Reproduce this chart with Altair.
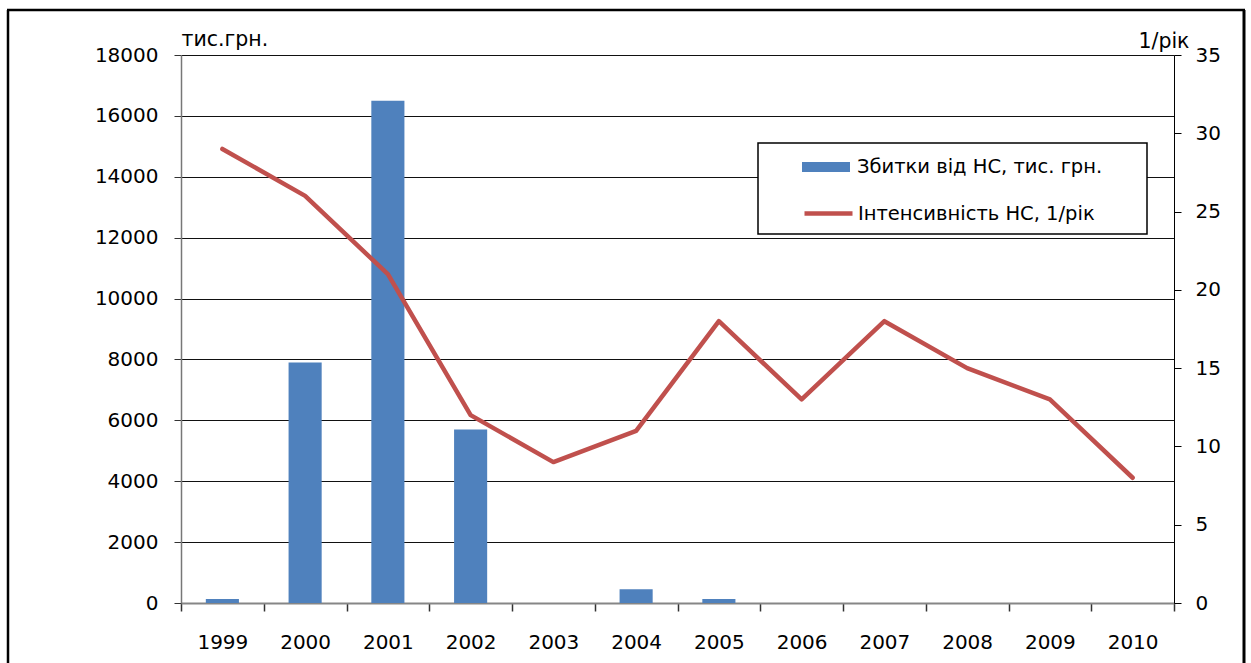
import altair as alt
import pandas as pd

# Annual values, 1999-2010
years = ["1999", "2000", "2001", "2002", "2003", "2004",
         "2005", "2006", "2007", "2008", "2009", "2010"]
damage = [130, 7900, 16500, 5700, 0, 450, 130, 0, 0, 0, 0, 0]      # тис. грн.
intensity = [29, 26, 21, 12, 9, 11, 18, 13, 18, 15, 13, 8]          # 1/рік

bar_name = "Збитки від НС, тис. грн."
line_name = "Інтенсивність НС, 1/рік"

BLUE = "#4F81BD"
RED = "#C0504D"
FONT = "DejaVu Sans"
TICK_FS = 20

df = pd.DataFrame({"year": years, "damage": damage, "intensity": intensity})
df["bar_series"] = bar_name
df["line_series"] = line_name

x_enc = alt.X(
    "year:N",
    sort=years,
    scale=alt.Scale(paddingInner=0, paddingOuter=0),
    axis=alt.Axis(
        title=None, labelAngle=0, tickBand="extent", grid=False,
        tickSize=8, labelPadding=21, labelFontSize=TICK_FS, labelFont=FONT,
        labelColor="#000", domainColor="#868686", domainWidth=2,
        tickColor="#333", tickWidth=1.5,
    ),
)

legend_common = dict(
    title=None, orient="none", padding=0, labelLimit=500,
    labelFont=FONT, labelFontSize=19.5, labelColor="#000",
    symbolSize=400, symbolOffset=0,
)

bars = alt.Chart(df).mark_bar(width=alt.RelativeBandSize(0.4)).encode(
    x=x_enc,
    y=alt.Y(
        "damage:Q",
        scale=alt.Scale(domain=[0, 18000]),
        axis=alt.Axis(
            title="тис.грн.", titleAngle=0, titleAlign="left", titleBaseline="alphabetic",
            titleX=0, titleY=-10, titleFont=FONT, titleFontSize=20.5, titleFontWeight="normal",
            titleColor="#000",
            values=list(range(0, 18001, 2000)), format="d",
            labelFont=FONT, labelFontSize=TICK_FS, labelColor="#000", labelPadding=16,
            tickSize=7, tickColor="#333", domainColor="#777", domainWidth=1.5,
            grid=True, gridColor="#111", gridWidth=1,
        ),
    ),
    fill=alt.Fill(
        "bar_series:N",
        scale=alt.Scale(domain=[bar_name], range=[BLUE]),
        legend=alt.Legend(legendX=635, legendY=102, labelOffset=21,
                          symbolType="M-2.4,-0.5H2.4V0.5H-2.4Z",
                          symbolStrokeWidth=0, **legend_common),
    ),
)

line = alt.Chart(df).mark_line(strokeWidth=4.5, strokeJoin="round", strokeCap="round").encode(
    x=x_enc,
    y=alt.Y(
        "intensity:Q",
        scale=alt.Scale(domain=[0, 35]),
        axis=alt.Axis(
            orient="right",
            title="1/рік", titleAngle=0, titleAlign="right", titleBaseline="alphabetic",
            titleX=15, titleY=-8, titleFont=FONT, titleFontSize=20.5, titleFontWeight="normal",
            titleColor="#000",
            values=list(range(0, 36, 5)),
            labelFont=FONT, labelFontSize=TICK_FS, labelColor="#000", labelPadding=14,
            tickSize=7, tickColor="#000", domainColor="#000", domainWidth=1,
            grid=False,
        ),
    ),
    stroke=alt.Stroke(
        "line_series:N",
        scale=alt.Scale(domain=[line_name], range=[RED]),
        legend=alt.Legend(legendX=635, legendY=146, labelOffset=17,
                          symbolType="M-2.4,0H2.4", symbolStrokeWidth=4.5,
                          **legend_common),
    ),
)

# white legend panel with a thin border, drawn above the gridlines
decor = alt.Data(values=[{}])
legend_box = alt.Chart(decor).mark_rect(fill="#fff", stroke="#000", strokeWidth=1.5).encode(
    x=alt.value(577), x2=alt.value(966), y=alt.value(88), y2=alt.value(179))

# outer frame around the figure
frame_left = alt.Chart(decor).mark_rule(color="#000", strokeWidth=2.5).encode(
    x=alt.value(-173), y=alt.value(-45), y2=alt.value(620))
frame_top = alt.Chart(decor).mark_rule(color="#000", strokeWidth=2.5).encode(
    x=alt.value(-174), x2=alt.value(1064), y=alt.value(-45))
frame_right = alt.Chart(decor).mark_rule(color="#000", strokeWidth=3).encode(
    x=alt.value(1063), y=alt.value(-45), y2=alt.value(620))

chart = alt.layer(bars, line, legend_box, frame_left, frame_top, frame_right).resolve_scale(
    y="independent"
).properties(
    width=993, height=548,
    autosize=alt.AutoSizeParams(type="none"),
    padding={"left": 181, "top": 55, "right": 77, "bottom": 60},
    background="#ffffff",
).configure_view(stroke=None)

chart.save("out.html", embed_options={"renderer": "svg", "actions": False})
